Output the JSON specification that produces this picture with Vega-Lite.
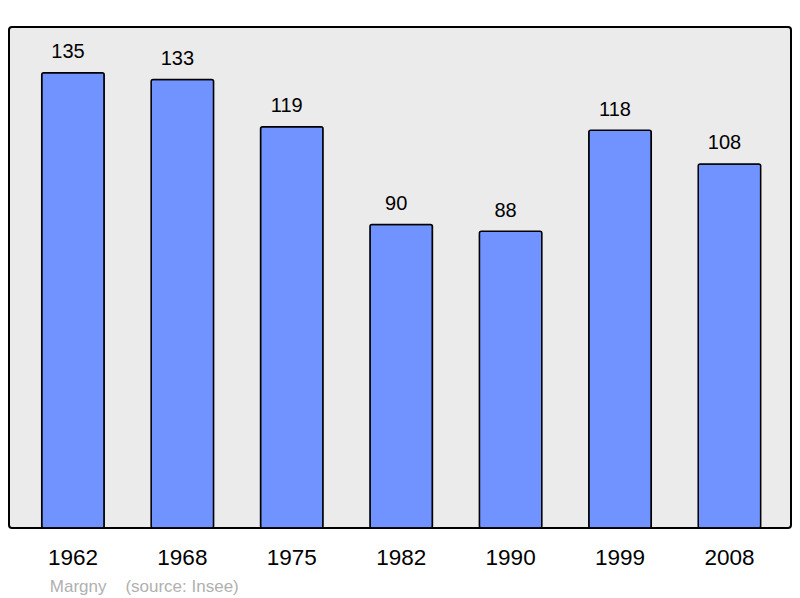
{
  "$schema": "https://vega.github.io/schema/vega-lite/v6.json",
  "width": 782,
  "height": 501,
  "autosize": {"type": "none"},
  "padding": {"left": 9, "top": 27, "right": 9, "bottom": 70},
  "background": "white",
  "config": {
    "font": "Liberation Sans",
    "view": {"fill": "#ebebeb", "stroke": "#000000", "strokeWidth": 2, "cornerRadius": 3}
  },
  "data": {
    "values": [
      {"year": "1962", "pop": 135},
      {"year": "1968", "pop": 133},
      {"year": "1975", "pop": 119},
      {"year": "1982", "pop": 90},
      {"year": "1990", "pop": 88},
      {"year": "1999", "pop": 118},
      {"year": "2008", "pop": 108}
    ]
  },
  "encoding": {
    "x": {
      "field": "year",
      "type": "nominal",
      "sort": null,
      "scale": {"paddingInner": 0.429, "paddingOuter": 0.288, "range": [1.2, 783.2]},
      "axis": {
        "domain": false,
        "ticks": false,
        "grid": false,
        "labelAngle": 0,
        "labelFontSize": 22.5,
        "labelColor": "#000000",
        "labelBaseline": "alphabetic",
        "labelPadding": 36,
        "title": "Margny\u00a0\u00a0\u00a0\u00a0(source: Insee)",
        "titleFontSize": 17,
        "titleFontWeight": "normal",
        "titleColor": "#b0b0b0",
        "titleAnchor": "start",
        "titleAlign": "left",
        "titleBaseline": "alphabetic",
        "titleX": 40.3,
        "titleY": 63.5
      }
    },
    "y": {
      "field": "pop",
      "type": "quantitative",
      "scale": {"domain": [0, 148.6], "nice": false, "zero": true},
      "axis": null
    }
  },
  "layer": [
    {
      "mark": {"type": "bar", "fill": "#7093ff", "stroke": "#000000", "strokeWidth": 1.5, "cornerRadius": 2}
    },
    {
      "mark": {"type": "text", "fontSize": 20, "baseline": "alphabetic", "align": "center", "dy": -14.5, "dx": -5, "color": "#000000"},
      "encoding": {"text": {"field": "pop", "type": "quantitative"}}
    }
  ]
}
